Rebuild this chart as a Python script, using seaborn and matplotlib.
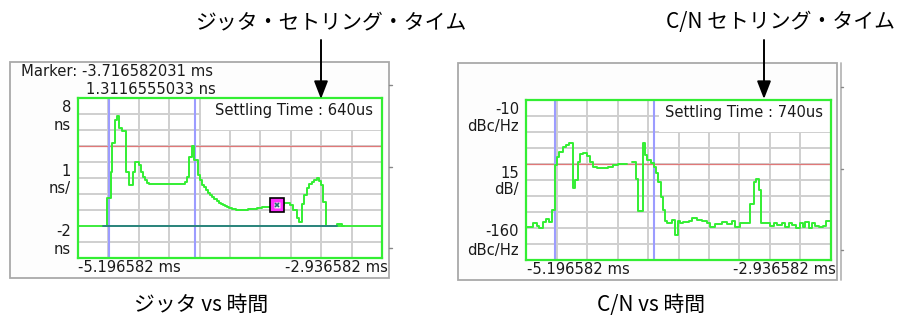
import numpy as np
import pandas as pd
import seaborn as sns
import matplotlib.pyplot as plt
from matplotlib.patches import Rectangle, FancyArrowPatch
from matplotlib.lines import Line2D

# ---- data (time in screen divisions, 0..10 = -5.196582 ms .. -2.936582 ms)
t_start_lbl = "-5.196582 ms"
t_stop_lbl = "-2.936582 ms"

jit_t = [0.83, 0.94, 1.07, 1.12, 1.21, 1.29, 1.36, 1.45, 1.58, 1.69, 1.80, 1.89,
         2.00, 2.06, 2.13, 2.21, 2.28, 2.35, 3.52, 3.60, 3.66, 3.75, 3.81, 3.95,
         4.01, 4.08, 4.14, 4.21, 4.28, 4.35, 4.42, 4.49, 4.56, 4.63, 4.70, 4.77,
         4.84, 4.91, 4.98, 5.05, 5.12, 5.19, 5.26, 5.60, 5.88, 6.04, 6.34, 6.77,
         6.97, 7.08, 7.19, 7.28, 7.36, 7.45, 7.52, 7.60, 7.69, 7.76, 7.85, 7.94,
         7.98, 8.07, 8.16, 8.51, 8.68, 8.75]
jit_ns = [0.0, 1.73, 3.4, 5.17, 6.63, 6.9, 6.1, 5.96, 3.4, 2.56, 3.4, 3.98,
          3.81, 3.4, 3.04, 2.88, 2.71, 2.6, 2.77, 3.08, 4.33, 5.02, 4.13, 3.19,
          2.88, 2.56, 2.44, 2.25, 2.08, 1.92, 1.79, 1.67, 1.56, 1.46, 1.38, 1.30,
          1.23, 1.17, 1.12, 1.08, 1.04, 1.02, 0.98, 1.06, 1.15, 1.2, 1.31, 1.42,
          1.31, 1.0, 0.48, 0.23, 1.35, 1.94, 2.35, 2.63, 2.77, 2.9, 2.98, 2.83,
          2.56, 1.48, 0.0, 0.1, 0.0, 0.0]

cn_t1 = [0.00, 0.22, 0.35, 0.44, 0.55, 0.66, 0.77, 0.84, 0.95, 1.01, 1.09, 1.20,
         1.31, 1.42, 1.53, 1.61, 1.69, 1.77, 1.88, 2.01, 2.10, 2.19, 2.32, 2.48,
         2.70, 2.86, 3.03, 3.30]
cn_v1 = [-129.4, -125.6, -128.1, -130.3, -124.0, -121.9, -124.0, -113.0, -71.0,
         -63.0, -58.4, -54.4, -52.2, -50.6, -92.8, -85.0, -67.8, -60.6, -59.4,
         -62.5, -67.8, -72.5, -74.0, -73.5, -72.5, -71.0, -70.0, -70.0]
cn_t2 = [3.46, 3.61, 3.66, 3.83, 3.90, 3.98, 4.09, 4.20, 4.26, 4.34, 4.42, 4.48,
         4.55, 4.62, 4.78, 4.89, 4.97, 5.05, 5.16, 5.33, 5.44, 5.60, 5.77, 5.93,
         6.04, 6.20, 6.42, 6.59, 6.75, 6.86, 7.02, 7.13, 7.35, 7.46, 7.55, 7.63,
         7.70, 7.84, 8.01, 8.12, 8.23, 8.39, 8.50, 8.61, 8.72, 8.86, 8.97, 9.08,
         9.16, 9.27, 9.38, 9.49, 9.60, 9.74, 9.85, 10.0]
cn_v2 = [-68.4, -84.4, -114.0, -50.6, -61.6, -66.3, -69.0, -72.5, -78.8, -86.6,
         -100.6, -113.0, -123.4, -125.6, -122.5, -136.6, -123.1, -125.6, -124.0,
         -123.1, -120.9, -122.5, -123.1, -125.6, -128.8, -126.3, -124.0, -126.3,
         -123.1, -129.4, -125.0, -125.6, -107.5, -86.6, -84.4, -94.4, -125.0,
         -125.6, -128.1, -125.0, -127.2, -125.0, -128.8, -125.0, -127.2, -130.3,
         -125.0, -128.8, -124.0, -130.3, -125.6, -128.1, -129.4, -128.1, -123.1,
         -123.1]

jit_settle = [1.02, 3.85]      # blue cursors, 640 us apart
cn_settle = [0.95, 4.20]       # blue cursors, 740 us apart
jit_limit = 5.0                # red line, ns
cn_limit = -70.0               # red line, dBc/Hz
marker_t, marker_ns = 6.55, 1.31

W, H = 906, 322
GREEN = "#33ee33"
GRID = "#cfcfcf"
FRAME = "#a9a9a9"


def fx(x):
    return x / W


def fy(y):
    return 1 - y / H


sns.set_style("white")
plt.rcParams["font.family"] = ["DejaVu Sans"]
fig = plt.figure(figsize=(W / 100, H / 100), dpi=100)
fig.patch.set_facecolor("white")

# outer instrument frames
for x0, y0, x1, y1 in [(10, 62, 389, 278), (458, 63, 837, 280)]:
    fig.add_artist(Rectangle((fx(x0), fy(y1)), (x1 - x0) / W, (y1 - y0) / H,
                             transform=fig.transFigure, facecolor="#fdfdfd",
                             edgecolor=FRAME, lw=1.3, zorder=-2))
fig.add_artist(Line2D([fx(841), fx(841)], [fy(63), fy(280)], transform=fig.transFigure,
                      color="#b8b8b8", lw=1.3))
for yy in [85, 167, 248]:
    fig.add_artist(Line2D([fx(389), fx(392)], [fy(yy), fy(yy)], transform=fig.transFigure,
                          color="#888888", lw=1))
    fig.add_artist(Line2D([fx(841), fx(843)], [fy(yy + 2), fy(yy + 2)],
                          transform=fig.transFigure, color="#888888", lw=1))


def setup_axes(rect, ylim):
    ax = fig.add_axes(rect)
    ax.set_xlim(0, 10)
    ax.set_ylim(*ylim)
    ax.set_xticks(np.linspace(0, 10, 11))
    ax.set_yticks(np.linspace(ylim[0], ylim[1], 11))
    ax.set_xticklabels([])
    ax.set_yticklabels([])
    ax.tick_params(length=0)
    ax.set_axisbelow(True)
    ax.grid(True, color=GRID, lw=1.4)
    for s in ax.spines.values():
        s.set_color(GREEN)
        s.set_linewidth(1.6)
    ax.set_facecolor("white")
    return ax


def step_df(ts, vs, end=None, seg=0):
    df = pd.DataFrame({"t": ts, "v": vs, "seg": seg})
    if end is not None:
        df = pd.concat([df, pd.DataFrame({"t": [end], "v": [vs[-1]], "seg": [seg]})])
    return df


# ---------------- jitter panel
ax1 = setup_axes([fx(78), fy(258), 304 / W, 160 / H], (-2, 8))
ax1.add_patch(Rectangle((4.05, 6), 5.95, 2, facecolor="white", edgecolor="none", zorder=1))
ax1.axhline(jit_limit, color="#e07878", lw=0.9, zorder=2)
for t in jit_settle:
    ax1.axvline(t, color="#9c9cff", lw=1.5, zorder=2)
ax1.axhline(0, color=GREEN, lw=1.3, zorder=2)
ax1.plot([jit_t[0], jit_t[-3]], [0, 0], color="#2b7c84", lw=1.3, zorder=4)
sns.lineplot(data=step_df(jit_t, jit_ns), x="t", y="v", units="seg", estimator=None,
             drawstyle="steps-post", color=GREEN, lw=1.4, ax=ax1, legend=False, zorder=3)
ax1.plot(marker_t, marker_ns, marker="s", ms=10, mfc="#ff30ff", mec="black", mew=1.2, zorder=5)
ax1.plot(marker_t, marker_ns, marker="s", ms=5, mfc="#f4f4f4", mec="none", zorder=6)
ax1.plot(marker_t, marker_ns, marker="x", ms=3.5, color="#1f6f70", mew=1.2, zorder=7)
ax1.set_xlabel("")
ax1.set_ylabel("")

# ---------------- C/N panel
ax2 = setup_axes([fx(526), fy(260), 305 / W, 160 / H], (-160, -10))
ax2.add_patch(Rectangle((4.35, -40), 5.65, 30, facecolor="white", edgecolor="none", zorder=1))
ax2.axhline(cn_limit, color="#e07878", lw=0.9, zorder=2)
for t in cn_settle:
    ax2.axvline(t, color="#9c9cff", lw=1.5, zorder=2)
cn_df = pd.concat([step_df(cn_t1, cn_v1, seg=0), step_df(cn_t2, cn_v2, seg=1)])
sns.lineplot(data=cn_df, x="t", y="v", units="seg", estimator=None,
             drawstyle="steps-post", color=GREEN, lw=1.4, ax=ax2, legend=False, zorder=3)
ax2.set_xlabel("")
ax2.set_ylabel("")

# ---------------- texts
fs = 10.6
txt = dict(fontsize=fs, color="#1a1a1a", va="center")
fig.text(fx(21), fy(72), "Marker: -3.716582031 ms", ha="left", **txt)
fig.text(fx(86), fy(89), "1.3116555033 ns", ha="left", **txt)
fig.text(fx(373), fy(111), "Settling Time : 640us", ha="right", **txt)
fig.text(fx(823), fy(113), "Settling Time : 740us", ha="right", **txt)

for x, lbls in [(71, [("8", 107), ("ns", 126), ("1", 172), ("ns/", 188),
                      ("-2", 232), ("ns", 249)]),
                (519, [("-10", 110), ("dBc/Hz", 127), ("15", 173), ("dB/", 189),
                       ("-160", 232), ("dBc/Hz", 250)])]:
    for s, y in lbls:
        fig.text(fx(x), fy(y), s, ha="right", **txt)

fig.text(fx(78), fy(268), t_start_lbl, ha="left", **txt)
fig.text(fx(388), fy(268), t_stop_lbl, ha="right", **txt)
fig.text(fx(527), fy(270), t_start_lbl, ha="left", **txt)
fig.text(fx(836), fy(270), t_stop_lbl, ha="right", **txt)

cjk = ["Noto Sans CJK JP", "DejaVu Sans"]
cjk_fs = 15.0
fig.text(fx(195), fy(22), "ジッタ・セトリング・タイム", ha="left", va="center",
         fontsize=cjk_fs, family=cjk, color="black")
fig.text(fx(895), fy(22), "C/N セトリング・タイム", ha="right", va="center",
         fontsize=cjk_fs, family=cjk, color="black")
fig.text(fx(201), fy(305), "ジッタ vs 時間", ha="center", va="center",
         fontsize=cjk_fs, family=cjk, color="black")
fig.text(fx(651), fy(305), "C/N vs 時間", ha="center", va="center",
         fontsize=cjk_fs, family=cjk, color="black")

for x in [321, 764]:
    fig.add_artist(FancyArrowPatch(
        (fx(x), fy(40)), (fx(x), fy(99)), transform=fig.transFigure,
        arrowstyle="-|>,head_length=0.9,head_width=0.35", mutation_scale=12,
        color="black", lw=1.4, shrinkA=0, shrinkB=0))

fig.savefig("out.png", dpi=100)
